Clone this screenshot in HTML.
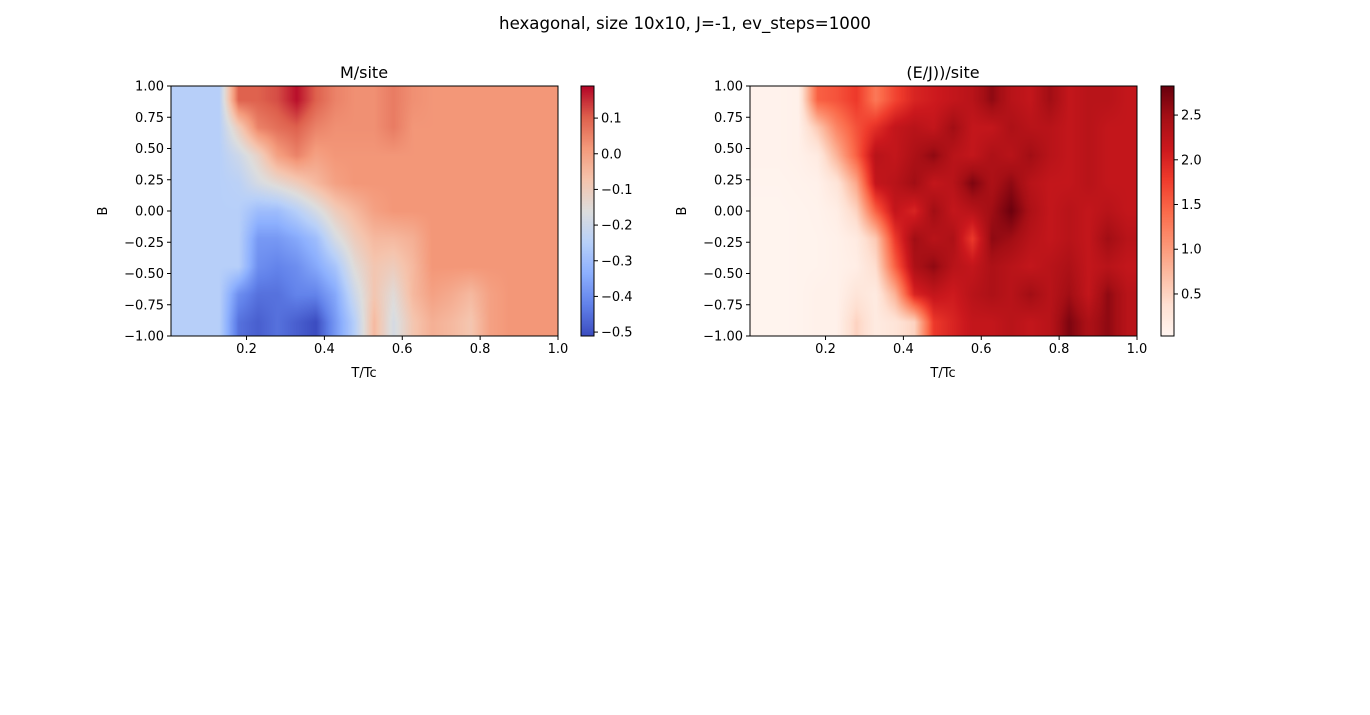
<!DOCTYPE html>
<html><head><meta charset="utf-8"><style>
body{margin:0;background:#fff;width:1370px;height:715px;overflow:hidden;position:relative;font-family:"Liberation Sans","DejaVu Sans",sans-serif}
canvas{position:absolute}
svg{position:absolute;left:0;top:0}
text{font-family:"DejaVu Sans","Liberation Sans",sans-serif;fill:#000}
</style></head><body>
<canvas id="hm1" width="387" height="250" style="left:171px;top:86px"></canvas>
<canvas id="cb1" width="13" height="250" style="left:581px;top:86px"></canvas>
<canvas id="hm2" width="387" height="250" style="left:750px;top:86px"></canvas>
<canvas id="cb2" width="13" height="250" style="left:1161px;top:86px"></canvas>
<svg id="ov" width="1370" height="715"></svg>
<script>
// B rows from B=1 (top) to B=-1 (bottom); 20 columns of T/Tc
const bTicks=[1,0.75,0.5,0.25,0,-0.25,-0.5,-0.75,-1];
const tTicks=[0.2,0.4,0.6,0.8,1.0];
const mTicks=[0.1,0.0,-0.1,-0.2,-0.3,-0.4,-0.5];
const eTicks=[2.5,2.0,1.5,1.0,0.5];
const magData=[
[-0.25,-0.25,-0.25,0.1,0.1,0.12,0.18,0.1,0.05,0.03,0.03,0.06,0.03,0.02,0.02,0.02,0.02,0.02,0.02,0.02],
[-0.25,-0.25,-0.25,-0.1,0.05,0.08,0.1,0.05,0.03,0.03,0.03,0.06,0.02,0.02,0.02,0.02,0.02,0.02,0.02,0.02],
[-0.25,-0.25,-0.25,-0.2,-0.12,0.0,0.05,0.0,0.02,0.02,0.02,0.02,0.02,0.02,0.02,0.02,0.02,0.02,0.02,0.02],
[-0.25,-0.25,-0.25,-0.24,-0.18,-0.14,-0.1,-0.05,0.0,0.02,0.02,0.02,0.02,0.02,0.02,0.02,0.02,0.02,0.02,0.02],
[-0.25,-0.25,-0.25,-0.25,-0.3,-0.3,-0.25,-0.18,-0.1,-0.05,0.0,0.02,0.02,0.02,0.02,0.02,0.02,0.02,0.02,0.02],
[-0.25,-0.25,-0.25,-0.25,-0.38,-0.38,-0.35,-0.3,-0.18,-0.1,-0.05,-0.05,-0.03,0.02,0.02,0.02,0.02,0.02,0.02,0.02],
[-0.25,-0.25,-0.25,-0.25,-0.4,-0.42,-0.4,-0.35,-0.28,-0.15,-0.08,-0.1,-0.05,0.02,0.02,0.02,0.02,0.02,0.02,0.02],
[-0.25,-0.25,-0.25,-0.4,-0.45,-0.45,-0.42,-0.42,-0.35,-0.2,-0.08,-0.15,-0.05,0.0,-0.02,-0.05,0.0,0.02,0.02,0.02],
[-0.25,-0.25,-0.25,-0.45,-0.48,-0.45,-0.48,-0.51,-0.38,-0.25,-0.05,-0.18,-0.08,-0.03,-0.05,-0.08,0.0,0.02,0.02,0.02]];
const enData=[
[0.08,0.08,0.1,1.5,1.6,1.8,1.3,1.7,2.0,2.1,2.2,2.3,2.6,2.3,2.2,2.5,2.2,2.3,2.3,2.2],
[0.08,0.08,0.1,0.6,1.2,1.6,1.9,2.2,2.3,2.2,2.5,2.2,2.2,2.4,2.3,2.3,2.2,2.3,2.2,2.2],
[0.08,0.08,0.1,0.2,0.8,1.5,2.3,2.2,2.4,2.6,2.3,2.2,2.4,2.3,2.5,2.3,2.2,2.3,2.2,2.2],
[0.06,0.06,0.08,0.1,0.3,0.9,2.2,2.3,2.5,2.2,2.3,2.7,2.4,2.6,2.3,2.2,2.2,2.3,2.2,2.2],
[0.05,0.05,0.06,0.08,0.15,0.5,1.5,2.2,2.0,2.5,2.2,2.3,2.5,2.8,2.4,2.2,2.3,2.2,2.3,2.2],
[0.05,0.05,0.06,0.07,0.1,0.2,0.6,1.8,2.5,2.3,2.4,1.8,2.6,2.5,2.3,2.2,2.3,2.2,2.5,2.3],
[0.05,0.05,0.06,0.07,0.1,0.15,0.4,1.5,2.4,2.6,2.3,2.2,2.4,2.3,2.2,2.3,2.4,2.2,2.3,2.2],
[0.05,0.05,0.06,0.1,0.1,0.3,0.2,0.8,2.0,2.2,2.1,2.3,2.4,2.3,2.5,2.3,2.5,2.2,2.6,2.3],
[0.05,0.05,0.06,0.1,0.1,0.5,0.2,0.3,0.5,1.8,2.0,2.2,2.2,2.3,2.2,2.3,2.7,2.4,2.6,2.3]];
const coolwarm=[[59,76,192],[98,130,234],[141,176,254],[184,208,249],[221,221,221],[245,196,173],[244,154,123],[222,96,77],[180,4,38]];
const reds=[[255,245,240],[254,224,210],[252,187,161],[252,146,114],[251,106,74],[239,59,44],[203,24,29],[165,15,21],[103,0,13]];
function cmap(a,t){t=Math.max(0,Math.min(1,t));const f=t*(a.length-1);const i=Math.min(a.length-2,Math.floor(f));const u=f-i;return a[i].map((c,k)=>Math.round(c+(a[i+1][k]-c)*u));}
function drawHeat(id,data,vmin,vmax,cm){const c=document.getElementById(id),ctx=c.getContext('2d'),W=c.width,H=c.height;const img=ctx.createImageData(W,H);const R=data.length,C=data[0].length;
for(let y=0;y<H;y++){const gy=Math.max(0,Math.min(R-1,(y+0.5)/H*R-0.5));const y0=Math.min(R-2,Math.floor(gy)),v=gy-y0;
for(let x=0;x<W;x++){const gx=Math.max(0,Math.min(C-1,(x+0.5)/W*C-0.5));const x0=Math.min(C-2,Math.floor(gx)),u=gx-x0;
const val=(data[y0][x0]*(1-u)+data[y0][x0+1]*u)*(1-v)+(data[y0+1][x0]*(1-u)+data[y0+1][x0+1]*u)*v;
const col=cmap(cm,(val-vmin)/(vmax-vmin));const p=(y*W+x)*4;img.data[p]=col[0];img.data[p+1]=col[1];img.data[p+2]=col[2];img.data[p+3]=255;}}
ctx.putImageData(img,0,0);}
function drawBar(id,cm){const c=document.getElementById(id),ctx=c.getContext('2d');for(let y=0;y<c.height;y++){const col=cmap(cm,1-(y+0.5)/c.height);ctx.fillStyle=`rgb(${col})`;ctx.fillRect(0,y,c.width,1);}}
const m1=[-0.511,0.19],e1=[0.03,2.825];
drawHeat('hm1',magData,m1[0],m1[1],coolwarm);drawBar('cb1',coolwarm);
drawHeat('hm2',enData,e1[0],e1[1],reds);drawBar('cb2',reds);
const NS='http://www.w3.org/2000/svg',ov=document.getElementById('ov');
function el(tag,attrs,txt){const e=document.createElementNS(NS,tag);for(const k in attrs)e.setAttribute(k,attrs[k]);if(txt!==undefined)e.textContent=txt;ov.appendChild(e);return e;}
const t=el('text',{x:685,y:29,'text-anchor':'middle','font-size':16.6},'hexagonal, size 10x10, J=-1, ev_steps=1000');


function fmt(v,d){return (v<0?'\u2212':'')+Math.abs(v).toFixed(d);}
function axes(L,title,cbx,cbTicks,cmin,cmax){const T=86,B=336;const tx=v=>L+(v-0.006)/(0.994)*387,by=v=>T+(1-v)/2*250;
const fr=el('rect',{x:L,y:T,width:387,height:250,fill:'none',stroke:'#000','stroke-width':1});


const ti=el('text',{x:L+193,y:78,'text-anchor':'middle','font-size':16},title);


tTicks.forEach(v=>{const x=tx(v);el('line',{x1:x,x2:x,y1:B,y2:B+4,stroke:'#000'});const l=el('text',{x:x,y:B+17,'text-anchor':'middle','font-size':13},v.toFixed(1));

});
bTicks.forEach(v=>{const y=by(v);el('line',{x1:L-4,x2:L,y1:y,y2:y,stroke:'#000'});const l=el('text',{x:L-7,y:y+4.5,'text-anchor':'end','font-size':13},fmt(v,2));

});
const xl=el('text',{x:L+193,y:377,'text-anchor':'middle','font-size':13},'T/Tc');


const yl=el('text',{x:0,y:0,'text-anchor':'middle','font-size':13,transform:`translate(${L-64},211) rotate(-90)`},'B');


const cf=el('rect',{x:cbx,y:T,width:13,height:250,fill:'none',stroke:'#000'});


cbTicks.forEach(v=>{const y=T+(cmax-v)/(cmax-cmin)*250;el('line',{x1:cbx+13,x2:cbx+17,y1:y,y2:y,stroke:'#000'});const l=el('text',{x:cbx+20,y:y+4.5,'font-size':13},fmt(v,1));

});}
axes(171,'M/site',581,mTicks,m1[0],m1[1]);
axes(750,'(E/J))/site',1161,eTicks,e1[0],e1[1]);
</script></body></html>
